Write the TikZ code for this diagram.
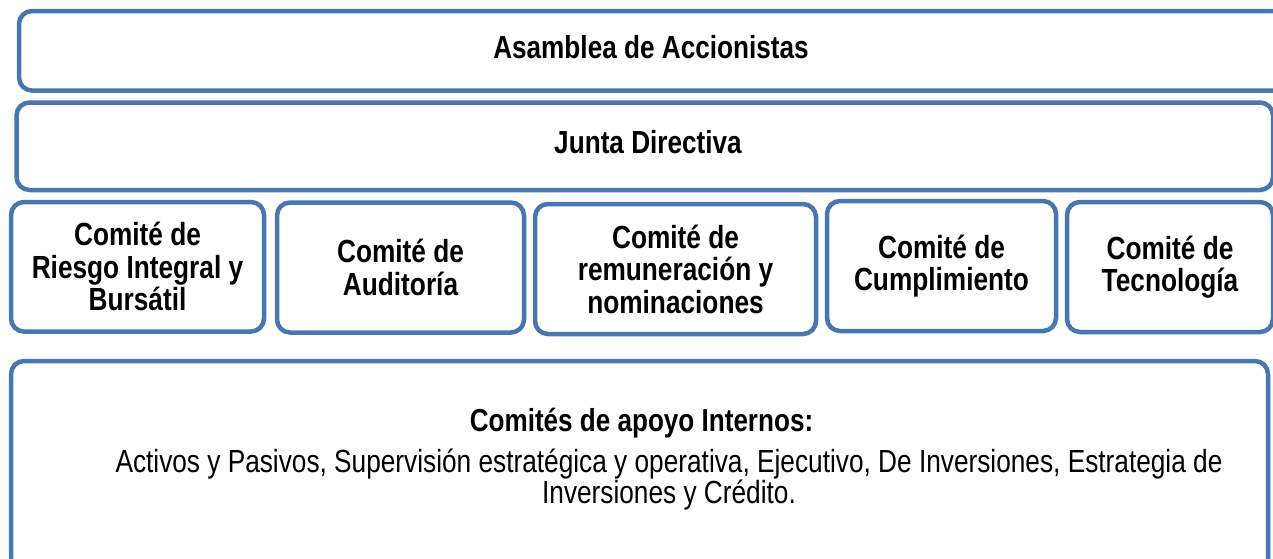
\documentclass[tikz,border=0pt]{standalone}
\usepackage{fontspec}
\setmainfont{Liberation Sans}[FakeStretch=0.82]
\definecolor{boxblue}{HTML}{4876AF}
\tikzset{
  box/.style={draw=boxblue, line width=4.5pt, rounded corners=13pt, fill=white, inner sep=0pt},
  ttl/.style={font=\fontsize{31.9}{34}\selectfont\bfseries, anchor=base, inner sep=0pt},
  com/.style={box, font=\fontsize{32}{32.5}\selectfont\bfseries, align=center},
  subttl/.style={font=\fontsize{31.8}{34}\selectfont\bfseries, anchor=base, inner sep=0pt},
  body/.style={font=\fontsize{32}{31.5}\selectfont, align=center, anchor=base, inner sep=0pt},
}
\begin{document}
\begin{tikzpicture}[x=1pt,y=-1pt]
\useasboundingbox (0,0) rectangle (1273,558);
\fill[white] (0,0) rectangle (1273,558);
% top boxes
\node[box, minimum width=1271pt, minimum height=79.5pt] (asamblea) at (654.5,50.75) {};
\node[ttl] (asambleaT) at (651,58.4) {Asamblea de Accionistas};
\node[box, minimum width=1256.5pt, minimum height=87.5pt] (junta) at (644.75,146.25) {};
\node[ttl] (juntaT) at (648,153.4) {Junta Directiva};
% committees
\node[com, minimum width=253pt, minimum height=129.5pt] (riesgo) at (137.5,266.75)
  {Comité de\\Riesgo Integral y\\Bursátil};
\node[com, minimum width=247pt, minimum height=130pt] (auditoria) at (400.5,267.5)
  {Comité de\\Auditoría};
\node[com, minimum width=281pt, minimum height=130pt] (remun) at (675.5,269)
  {Comité de\\remuneración y\\nominaciones};
\node[com, minimum width=229pt, minimum height=130pt] (cumpl) at (941.5,266)
  {Comité de\\Cumplimiento};
\node[com, minimum width=206pt, minimum height=130pt] (tecno) at (1170,267)
  {Comité de\\Tecnología};
% internal support committees
\node[box, minimum width=1257pt, minimum height=239pt] (apoyo) at (639.5,480.5) {};
\node[subttl] (apoyoT) at (641.5,431.5) {Comités de apoyo Internos:};
\node[body] (apoyoL) at (669,503.5) {Activos y Pasivos, Supervisión estratégica y operativa, Ejecutivo, De Inversiones, Estrategia de\\Inversiones y Crédito.};
\end{tikzpicture}
\end{document}
